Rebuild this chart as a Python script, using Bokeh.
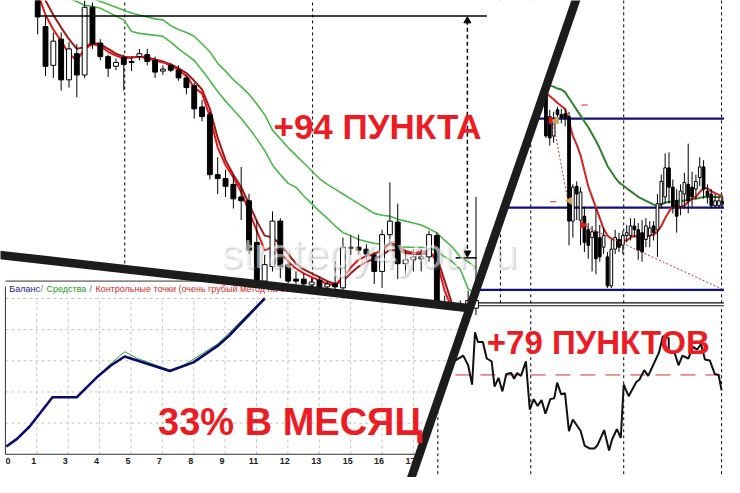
import math
from bokeh.plotting import figure
from bokeh.models import Range1d, ColumnDataSource
from bokeh.core.properties import value
from bokeh.embed import file_html
from bokeh.resources import INLINE

# ======================= DATA =======================
# Panel A (top-left H1 chart): candles, price in points
a_open = [308,273,233,260,218,245,223,293,256,242,232,241,236,242,244,238,227,233,228,220,
          212,190,182,120,116,110,97,93,50,10,25,72,27,12,12,6,11,4,7,3,
          44,45,43,37,20,58,71,28,32,33,35,57,-15,-30,-25,-15,-18]
a_close = [283,232,258,218,250,223,293,255,242,230,236,234,237,245,237,226,229,228,220,210,
           188,180,120,116,108,95,93,42,10,27,72,25,10,10,7,9,3,7,4,45,
           45,42,38,20,58,72,28,32,35,35,58,-18,-30,-25,-15,-10,-10]
a_high = [315,283,267,267,257,255,300,298,260,244,240,244,242,250,250,242,233,235,233,223,
          215,197,185,138,125,120,128,100,73,37,82,75,32,20,18,13,15,10,30,55,
          57,58,48,40,63,112,90,42,43,43,62,60,-5,-20,-10,0,97]
a_low = [265,222,220,207,210,200,220,250,238,221,228,207,227,238,233,220,223,226,217,203,
         178,175,115,100,97,85,73,38,8,7,20,13,8,7,5,4,0,0,0,0,
         37,37,32,7,3,47,12,17,20,20,30,-20,-35,-40,-30,-25,-25]
a_ma_fast = [308,285,270,258,245,238,250,255,253,247,243,240,241,242,240,238,236,233,228,222,
             210,204,180,148,130,117,102,82,62,42,45,40,30,23,18,14,11,7,6,14,
             24,32,36,38,42,50,46,41,39,40,42,30,0,-20]
a_ma_slow = [320,300,285,272,260,250,252,256,255,250,245,242,241,242,241,239,237,234,230,225,
             217,208,188,158,135,120,107,90,72,57,55,48,38,28,22,18,14,10,7,10,
             18,25,30,33,37,42,42,39,38,38,39,35,10,-15]
a_env_upper = [330,325,320,315,310,307,304,302,299,296,293,290,287,285,283,281,280,274,270,267,
               263,255,247,235,227,218,211,203,193,182,166,157,148,140,132,124,116,110,105,100,
               95,90,85,80,78,77,74,72,70,68,64,60,52,45,35,30,24]
a_env_lower = [320,315,310,306,302,299,295,294,292,288,284,280,268,266,265,264,263,257,250,244,
               238,228,217,206,196,187,178,168,157,145,130,120,111,107,98,90,82,75,67,60,
               57,53,51,49,48,47,46,45,45,45,44,41,35,30,22,2,-3]
a_day_breaks = [11.125, 35.125]
a_move_high = 284      # level of the top line
a_move_low = 34        # level of the target line (+94)

# Panel C (top-right M15 chart)
c_open = [203,180,160,187,182,183,180,72,108,73,77,63,55,61,55,45,35,5,43,53,
          47,57,57,67,63,60,53,57,67,63,90,97,127,107,93,87,100,110,107,105,
          117,128,103,100,88,88,92]
c_close = [160,158,178,182,179,179,72,107,100,102,50,47,61,33,35,57,5,43,55,45,
           57,60,67,63,42,40,67,65,60,90,113,127,107,87,77,103,112,93,97,113,
           128,105,98,88,93,93,90]
c_high = [212,187,185,190,188,188,185,110,113,107,87,70,67,85,68,65,40,53,63,60,
          62,68,75,75,70,73,75,72,72,100,120,142,143,115,105,110,122,152,123,120,
          138,135,110,105,100,97,97]
c_low = [158,150,153,175,173,170,47,55,73,47,40,33,20,17,30,38,3,3,38,40,
         38,50,52,55,32,30,45,45,52,35,85,90,90,80,60,78,85,80,87,95,
         108,95,90,85,85,85,87]
c_ma_red = [205,201,198,194,191,188,175,160,151,140,124,108,97,86,75,64,57,54,52,52,
            52,52,55,57,55,54,56,57,58,61,67,75,82,87,87,87,88,92,95,97,
            102,106,106,103,101,99,98]
c_ma_green = [212,211,209,208,205,199,193,187,181,175,169,162,155,147,138,129,123,117,112,109,
              106,103,100,97,95,93,91,89,88,89,91,92,92,93,93,93,94,95,95,96,
              97,97,97,97,97,97]
c_levels = [178, 86, 1]
c_breaks = [-11.83, -3.94, 20.23, 45.67]
c_trade1_x = [1.9, 5.73]
c_trade1_y = [173, 93]
c_trade2_x = [9.54, 45.7]
c_trade2_y = [68, 2]
c_entry_red_x = [1.4, 9.54]
c_entry_red_y = [176, 68]
c_exit_tan_x = [2.67, 6.23]
c_exit_tan_y = [176, 93]
c_stop_x = [10.05, 1.9]
c_stop_y = [192, 92]

# Panel D (bottom-right oscillator)
d_x = [0,3.25,4.5,5.5,6.25,7,8.25,9.25,10.5,11.25,12.25,13.25,14.25,15.5,16.25,17,18,19.25,20.25,21.25,
       22.25,23.25,24.25,25.5,26.5,27.25,28.25,29.25,30.25,31.25,33.25,34.25,35.5,36.75,37.5,39.25,40.5,41.25,42.5,43.5,
       44.25,45.5,47.5,48.25,49.5,50.5,51.75,53.25,54.25,55.75,55.75,57.25,58.25,59.25,60.75,62,63,64,65,66.25,
       67.5,68.5,69.25]
d_v = [12,20,10,-10,44,34,34,17,14,-12,-3,-17,1,2,-4,2,-1,14,-36,-25,
       -32,-26,-40,-25,-24,-8,-20,-19,-58,-46,-58,-73,-76,-76,-73,-57,-78,-67,-56,-65,
       -10,-22,-7,-5,5,-1,10,23,40,38,24,23,10,20,17,29,26,32,16,15,
       1,0,-16]
d_breaks = [-3.25, 20.5, 44.25, 69.25]

# Panel B (bottom-left tester report)
eq_bal_t = [0.03,0.37,0.78,1.50,2.28,2.43,2.96,3.37,3.80,5.24,5.99,6.76,7.11,8.26]
eq_bal = [10124,10248,10450,10916,10916,10994,11258,11429,11569,11336,11475,11739,11894,12500]
eq_eq_t = [0.03,0.37,0.78,1.50,2.28,2.43,2.96,3.37,3.80,4.21,5.24,5.67,6.08,6.76,7.11,8.26]
eq_eq = [10124,10248,10450,10916,10916,10994,11258,11460,11646,11537,11351,11429,11553,11770,11941,12516]
b_tick_labels = ["0","1","3","4","5","7","8","9","11","12","13","15","16","17"]
b_levels = [10500, 11000, 11500, 12000, 12500]

# ======================= LAYOUT =======================
FX0, FX1 = 0, 740
FY0, FY1 = 493, 0


def xr(pa, va, pb, vb):
    k = (vb - va) / (pb - pa)
    return Range1d(start=va + (FX0 - pa) * k, end=va + (FX1 - pa) * k)


def yr(pa, va, pb, vb):
    k = (vb - va) / (pb - pa)
    return Range1d(start=va + (FY0 - pa) * k, end=va + (FY1 - pa) * k)


def diag_x(y):
    return 588 - 0.3408 * y


def ab_y(x):
    return 263 + 0.1146 * x


p = figure(width=724, height=477, x_range=Range1d(FX0, FX1), y_range=Range1d(FY0, FY1),
           output_backend="svg", toolbar_location=None, x_axis_type=None, y_axis_type=None,
           min_border=0, outline_line_color=None, background_fill_color="white",
           border_fill_color="white")
p.xgrid.visible = False
p.ygrid.visible = False

p.extra_x_ranges = {
    "ax": xr(38, 0, 46, 1),
    "cx": xr(557.5, 0, 561.43, 1),
    "dx": xr(460, 0, 464, 1),
    "bx": xr(5, 0, 37.08, 1),
}
p.extra_y_ranges = {
    "ay": yr(300, 0, 200, 100),
    "cy": yr(300, 0, 200, 100),
    "dy": yr(387, 0, 377, 10),
    "by": yr(469, 10000, 436.8, 10500),
}
A = dict(x_range_name="ax", y_range_name="ay")
C = dict(x_range_name="cx", y_range_name="cy")
D = dict(x_range_name="dx", y_range_name="dy")
B = dict(x_range_name="bx", y_range_name="by")


def candles(o, c, h, l, width, rng):
    xs = list(range(len(o)))
    src = ColumnDataSource(dict(
        x=xs, top=[max(a, b) for a, b in zip(o, c)], bottom=[min(a, b) for a, b in zip(o, c)],
        high=h, low=l, fill=["white" if cc > oo else "black" for oo, cc in zip(o, c)]))
    p.segment(x0="x", y0="low", x1="x", y1="high", source=src, line_color="black",
              line_width=1, **rng)
    p.vbar(x="x", width=width, top="top", bottom="bottom", fill_color="fill",
           line_color="black", line_width=1, source=src, **rng)


# ---------- Panel C ----------
for xb in c_breaks:
    p.line([xb, xb], [-13, 330], line_color="black", line_width=1, line_dash="3 3", **C)
for lv in c_levels:
    p.line([-30, 50], [lv, lv], line_color="#10107e", line_width=2.2, **C)
p.line(list(range(1, 1 + len(c_ma_green))), c_ma_green, line_color="#2f7f2f", line_width=2, **C)
p.line(list(range(len(c_ma_red))), c_ma_red, line_color="#d42020", line_width=2, **C)
candles(c_open, c_close, c_high, c_low, 0.7, C)
p.line(c_trade1_x, c_trade1_y, line_color="#c03030", line_width=1, line_dash="2 2", **C)
p.line(c_trade2_x, c_trade2_y, line_color="#c03030", line_width=1, line_dash="2 2", **C)
p.scatter(c_entry_red_x, c_entry_red_y, marker="triangle", angle=-math.pi / 2, size=7,
          fill_color="#e02020", line_color="#e02020", **C)
p.scatter(c_exit_tan_x, c_exit_tan_y, marker="triangle", angle=math.pi / 2, size=7,
          fill_color="#c8a860", line_color="#c8a860", **C)
p.segment(x0=[v - 0.8 for v in c_stop_x], y0=c_stop_y, x1=[v + 0.8 for v in c_stop_x],
          y1=c_stop_y, line_color="#e02020", line_width=1.2, **C)
# separator between chart and indicator window
p.segment(x0=[470, 470], y0=[312.5, 315.5], x1=[745, 745], y1=[312.5, 315.5],
          line_color="#111111", line_width=1.2)

# ---------- Panel D ----------
for xb in d_breaks:
    p.line([xb, xb], [-115, 71], line_color="black", line_width=1, line_dash="3 3", **D)
p.line([1.25, 72], [0, 0], line_color="#cc3030", line_width=1, line_dash="15 10", **D)
p.line(d_x, d_v, line_color="#111111", line_width=2, **D)

# ---------- mask left of diagonal ----------
p.patch([-20, diag_x(-20), diag_x(520), -20], [-20, -20, 520, 520],
        fill_color="white", line_color=None)

# ---------- Panel A ----------
for xb in a_day_breaks:
    p.line([xb, xb], [-40, 320], line_color="black", line_width=1, line_dash="3 3", **A)
p.line(list(range(len(a_env_upper))), a_env_upper, line_color="#4cb84c", line_width=1.6, **A)
p.line(list(range(len(a_env_lower))), a_env_lower, line_color="#4cb84c", line_width=1.6, **A)
p.line(list(range(len(a_ma_slow))), a_ma_slow, line_color="#a01818", line_width=2, **A)
p.line(list(range(len(a_ma_fast))), a_ma_fast, line_color="#e01818", line_width=2, **A)
candles(a_open, a_close, a_high, a_low, 0.62, A)
p.line([-0.25, 57.4], [a_move_high, a_move_high], line_color="black", line_width=1.5, **A)
p.line([53.4, 56.1], [a_move_low, a_move_low], line_color="black", line_width=1.5, **A)
p.line([54.9, 54.9], [a_move_high - 5, a_move_low + 5], line_color="black", line_width=1.5,
       line_dash="4 3", **A)
p.scatter([54.9], [a_move_high - 5], marker="triangle", size=7, fill_color="black",
          line_color="black", **A)
p.scatter([54.9], [a_move_low + 5], marker="inverted_triangle", size=7, fill_color="black",
          line_color="black", **A)

# ---------- mask for panel B ----------
p.patch([-20, 480, diag_x(520), -20], [ab_y(-20), ab_y(480), 520, 520],
        fill_color="white", line_color=None)

# ---------- Panel B ----------
gx0, gx1, gy0, gy1 = [], [], [], []
for lv in b_levels:
    py = 469 - (lv - 10000) * 32.2 / 500
    xe = diag_x(py)
    if py < ab_y(xe):
        xe = (py - 263) / 0.1146
    gx0.append(0); gx1.append((xe - 5) / 32.08); gy0.append(lv); gy1.append(lv)
p.segment(x0=gx0, y0=gy0, x1=gx1, y1=gy1, line_color="#c4c4c4", line_width=1,
          line_dash="3 3", **B)
nt = len(b_tick_labels)
p.segment(x0=list(range(1, nt)), y0=[10000] * (nt - 1), x1=list(range(1, nt)),
          y1=[12500] * (nt - 1), line_color="#c4c4c4", line_width=1, line_dash="3 3", **B)
p.line([0, (diag_x(469) - 5) / 32.08], [10000, 10000], line_color="#333333", line_width=1, **B)
p.line([0, 0], [10000, 12690], line_color="#333333", line_width=1, **B)
p.line([5, (290 - 263) / 0.1146], [290, 290], line_color="#333333", line_width=1)
tick_font = dict(text_font=value("Liberation Sans"), text_font_style="bold",
                 text_font_size="9px", text_color="#222222", text_baseline="top", y_offset=4)
p.text(x=[0], y=[10000], text=b_tick_labels[:1], text_align="left", x_offset=0,
       **tick_font, **B)
p.text(x=list(range(1, nt)), y=[10000] * (nt - 1), text=b_tick_labels[1:],
       text_align="center", x_offset=-3, **tick_font, **B)
p.line(eq_eq_t, eq_eq, line_color="#2a9a2a", line_width=1, **B)
p.line(eq_bal_t, eq_bal, line_color="#0b0b6a", line_width=2.6, **B)
legend_parts = [("Баланс", "#1b1b8f", 9), ("/", "#707070", 41), ("Средства", "#1f9a1f", 47),
                ("/", "#707070", 91), ("Контрольные точки (очень грубый метод на ос", "#d42a2a", 97)]
for txt, col, xx in legend_parts:
    p.text(x=[xx], y=[298.5], text=[txt], text_font=value("Liberation Sans"),
           text_font_size="9px", text_color=col, text_baseline="middle", text_align="left")

# ---------- watermark ----------
p.text(x=[227], y=[263], text=["strategy4you.ru"], text_font=value("Liberation Sans"),
       text_font_size="43px", text_color="#808080", text_alpha=0.3, text_baseline="alphabetic")
p.text(x=[225], y=[261], text=["strategy4you.ru"], text_font=value("Liberation Sans"),
       text_font_size="43px", text_color="white", text_alpha=0.55, text_baseline="alphabetic")

# ---------- thick separators ----------
p.line([-20, 482], [ab_y(-20), ab_y(482)], line_color="#1c1c1c", line_width=8.5)
p.line([diag_x(-20), diag_x(520)], [-20, 520], line_color="#1c1c1c", line_width=8.5)

# ---------- headline texts ----------
RED = "#ec1c24"
big = dict(text_font=value("Liberation Sans"), text_font_style="bold",
           text_color=RED, text_baseline="alphabetic", text_align="left")
p.text(x=[279], y=[130], text=["+94 ПУНКТА"], text_font_size="35px", **big)
p.text(x=[497], y=[353], text=["+79 ПУНКТОВ"], text_font_size="33px", **big)
p.text(x=[161], y=[436], text=["33% В МЕСЯЦ"], text_font_size="38px", **big)

open("out.html", "w").write(file_html(p, INLINE))
